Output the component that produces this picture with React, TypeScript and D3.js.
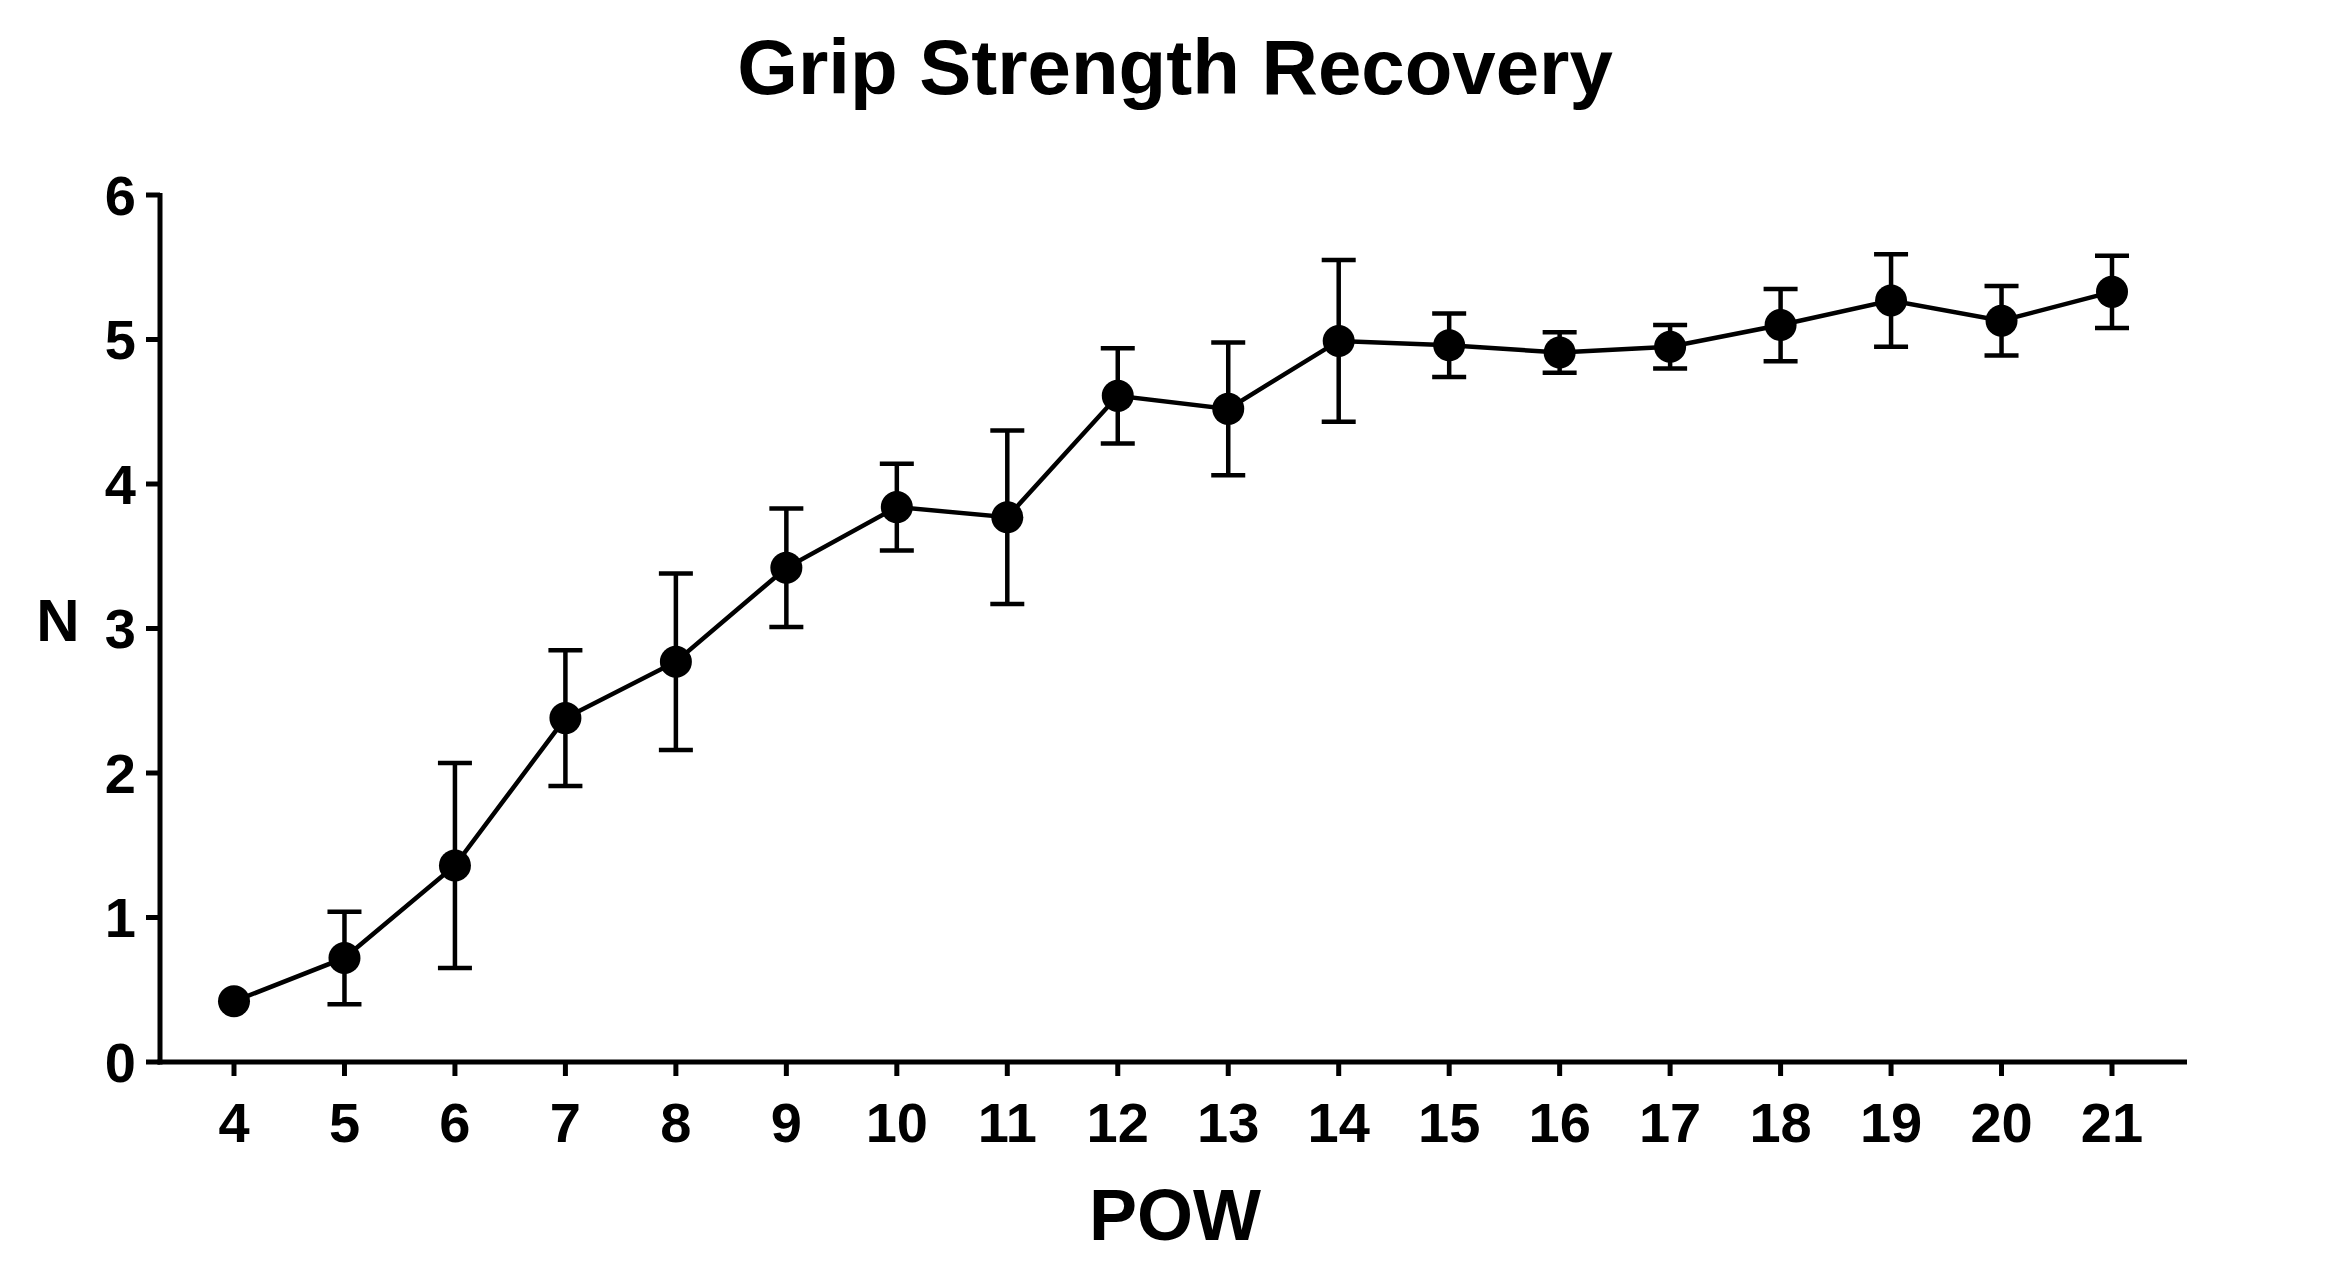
import * as d3 from "d3";

const weeks = [4, 5, 6, 7, 8, 9, 10, 11, 12, 13, 14, 15, 16, 17, 18, 19, 20, 21];
const means = [0.42, 0.72, 1.36, 2.38, 2.77, 3.42, 3.84, 3.77, 4.61, 4.52, 4.99, 4.96, 4.91, 4.95, 5.1, 5.27, 5.13, 5.33];
const errs = [0, 0.32, 0.71, 0.47, 0.61, 0.41, 0.3, 0.6, 0.33, 0.46, 0.56, 0.22, 0.14, 0.15, 0.25, 0.32, 0.24, 0.25];
const yTicks = [0, 1, 2, 3, 4, 5, 6];

export default function App() {
  const W = 2337, H = 1270;
  const left = 160, right = 2187, top = 195, bottom = 1062;
  const x = d3.scaleLinear().domain([4, 21]).range([234, 2112]);
  const y = d3.scaleLinear().domain([0, 6]).range([bottom, top]);
  const line = d3.line<number>().x((_, i) => x(weeks[i])).y(d => y(d));
  const font = "'Liberation Sans', Arial, sans-serif";
  return (
    <svg width={W} height={H} style={{ display: "block", margin: -8 }} fontFamily={font} fontWeight="bold">
      <text x={1175} y={67} fontSize={78} textAnchor="middle" dominantBaseline="central">Grip Strength Recovery</text>
      {/* axes */}
      <line x1={left} x2={left} y1={top - 2} y2={bottom + 2.5} stroke="#000" strokeWidth={5} />
      <line x1={left - 2.5} x2={right} y1={bottom} y2={bottom} stroke="#000" strokeWidth={5} />
      {yTicks.map(t => (
        <g key={t}>
          <line x1={left - 14} x2={left} y1={y(t)} y2={y(t)} stroke="#000" strokeWidth={5} />
          <text x={left - 24} y={y(t)} fontSize={56} textAnchor="end" dominantBaseline="central">{t}</text>
        </g>
      ))}
      {weeks.map(w => (
        <g key={w}>
          <line x1={x(w)} x2={x(w)} y1={bottom} y2={bottom + 14} stroke="#000" strokeWidth={5} />
          <text x={x(w)} y={bottom + 60} fontSize={56} textAnchor="middle" dominantBaseline="central">{w}</text>
        </g>
      ))}
      <text x={58} y={y(3) - 8} fontSize={60} textAnchor="middle" dominantBaseline="central">N</text>
      <text x={1175} y={1215} fontSize={72} textAnchor="middle" dominantBaseline="central">POW</text>
      {/* error bars */}
      {weeks.map((w, i) => errs[i] > 0 && (
        <g key={"e" + w} stroke="#000" strokeWidth={4.5}>
          <line x1={x(w)} x2={x(w)} y1={y(means[i] - errs[i])} y2={y(means[i] + errs[i])} />
          <line x1={x(w) - 17} x2={x(w) + 17} y1={y(means[i] - errs[i])} y2={y(means[i] - errs[i])} />
          <line x1={x(w) - 17} x2={x(w) + 17} y1={y(means[i] + errs[i])} y2={y(means[i] + errs[i])} />
        </g>
      ))}
      <path d={line(means) ?? ""} fill="none" stroke="#000" strokeWidth={4.5} />
      {weeks.map((w, i) => (
        <circle key={"c" + w} cx={x(w)} cy={y(means[i])} r={16} fill="#000" />
      ))}
    </svg>
  );
}
